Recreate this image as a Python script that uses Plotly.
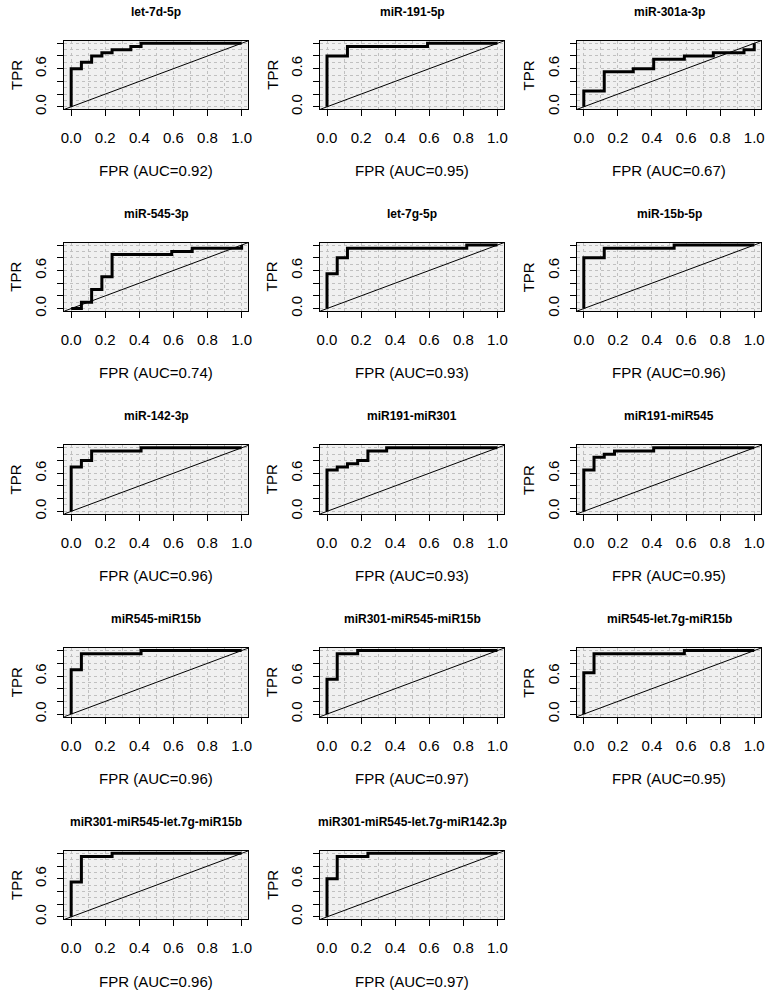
import plotly.graph_objects as go

panel_titles = [
    "let-7d-5p", "miR-191-5p", "miR-301a-3p",
    "miR-545-3p", "let-7g-5p", "miR-15b-5p",
    "miR-142-3p", "miR191-miR301", "miR191-miR545",
    "miR545-miR15b", "miR301-miR545-miR15b", "miR545-let.7g-miR15b",
    "miR301-miR545-let.7g-miR15b", "miR301-miR545-let.7g-miR142.3p",
]
auc_values = [0.92, 0.95, 0.67, 0.74, 0.93, 0.96, 0.96, 0.93, 0.95, 0.96, 0.97, 0.95, 0.96, 0.97]

# ROC step vertices (FPR, TPR); drawn with horizontal-then-vertical steps
fpr_points = [
    [0, 0, 0.06, 0.12, 0.18, 0.24, 0.35, 0.41, 1.0],
    [0, 0, 0.12, 0.59, 1.0],
    [0, 0, 0.12, 0.29, 0.41, 0.59, 0.76, 0.94, 1.0],
    [0, 0.06, 0.12, 0.18, 0.24, 0.59, 0.71, 1.0],
    [0, 0, 0.06, 0.12, 0.82, 1.0],
    [0, 0, 0.12, 0.53, 1.0],
    [0, 0, 0.06, 0.12, 0.41, 1.0],
    [0, 0, 0.06, 0.12, 0.18, 0.24, 0.35, 1.0],
    [0, 0, 0.06, 0.12, 0.18, 0.41, 1.0],
    [0, 0, 0.06, 0.41, 1.0],
    [0, 0, 0.06, 0.18, 1.0],
    [0, 0, 0.06, 0.59, 1.0],
    [0, 0, 0.06, 0.24, 1.0],
    [0, 0, 0.06, 0.24, 1.0],
]
tpr_points = [
    [0, 0.6, 0.7, 0.8, 0.85, 0.9, 0.95, 1.0, 1.0],
    [0, 0.8, 0.95, 1.0, 1.0],
    [0, 0.25, 0.55, 0.6, 0.75, 0.8, 0.85, 0.9, 1.0],
    [0, 0.1, 0.3, 0.5, 0.85, 0.9, 0.95, 1.0],
    [0, 0.55, 0.8, 0.95, 1.0, 1.0],
    [0, 0.8, 0.95, 1.0, 1.0],
    [0, 0.7, 0.8, 0.95, 1.0, 1.0],
    [0, 0.65, 0.7, 0.75, 0.8, 0.95, 1.0, 1.0],
    [0, 0.65, 0.85, 0.9, 0.95, 1.0, 1.0],
    [0, 0.7, 0.95, 1.0, 1.0],
    [0, 0.55, 0.95, 1.0, 1.0],
    [0, 0.65, 0.95, 1.0, 1.0],
    [0, 0.55, 0.95, 1.0, 1.0],
    [0, 0.6, 0.95, 1.0, 1.0],
]

x_tick_vals = [0, 0.2, 0.4, 0.6, 0.8, 1.0]
x_tick_text = ["0.0", "0.2", "0.4", "0.6", "0.8", "1.0"]
y_tick_vals = [0, 0.2, 0.4, 0.6, 0.8, 1.0]
y_tick_text = ["0.0", "", "", "0.6", "", ""]
grid_minor = [0.1, 0.3, 0.5, 0.7, 0.9]

W, H = 770, 993
col_left = [61, 319.5, 579]
row_top = [41, 244, 448, 652, 856]
pw, ph = 186, 69
FONT = "Liberation Sans, Arial, sans-serif"

fig = go.Figure()
layout = {}
annotations = []
shapes = []

for i, name in enumerate(panel_titles):
    r, c = divmod(i, 3)
    k = i + 1
    xa = "x" if k == 1 else f"x{k}"
    ya = "y" if k == 1 else f"y{k}"
    x0 = col_left[c] / W
    x1 = (col_left[c] + pw) / W
    y1 = 1 - row_top[r] / H
    y0 = 1 - (row_top[r] + ph) / H

    fig.add_trace(go.Scatter(
        x=fpr_points[i], y=tpr_points[i], mode="lines",
        line=dict(color="black", width=3, shape="hv"),
        xaxis=xa, yaxis=ya, showlegend=False, hoverinfo="skip",
    ))

    common = dict(
        range=[-0.04, 1.04], showline=True, mirror=True, linecolor="black", linewidth=1,
        ticks="outside", ticklen=6, tickcolor="black", tickwidth=1,
        showgrid=True, gridcolor="#c0c0c0", griddash="dot", gridwidth=1,
        zeroline=False, fixedrange=True,
        tickfont=dict(family=FONT, size=15, color="black"),
        minor=dict(tickvals=grid_minor, showgrid=True, gridcolor="#c0c0c0",
                   griddash="dot", gridwidth=1, ticks=""),
    )
    layout["xaxis" if k == 1 else f"xaxis{k}"] = dict(
        domain=[x0, x1], anchor=ya, tickmode="array",
        tickvals=x_tick_vals, ticktext=x_tick_text, ticklabelstandoff=9, **common)
    layout["yaxis" if k == 1 else f"yaxis{k}"] = dict(
        domain=[y0, y1], anchor=xa, tickmode="array",
        tickvals=y_tick_vals, ticktext=y_tick_text, tickangle=-90,
        ticklabelstandoff=5, **common)

    shapes.append(dict(type="line", xref=f"{xa} domain", yref=f"{ya} domain",
                       x0=0, y0=0, x1=1, y1=1, line=dict(color="black", width=1)))

    cx = (col_left[c] + pw / 2) / W
    annotations.append(dict(
        text=f"<b>{name}</b>", x=cx, y=1 - (row_top[r] - 29) / H,
        xref="paper", yref="paper", showarrow=False, xanchor="center", yanchor="middle",
        font=dict(family=FONT, size=12, color="black")))
    annotations.append(dict(
        text=f"FPR (AUC={auc_values[i]:.2f})", x=cx, y=1 - (row_top[r] + ph + 62) / H,
        xref="paper", yref="paper", showarrow=False, xanchor="center", yanchor="middle",
        font=dict(family=FONT, size=15, color="black")))
    annotations.append(dict(
        text="TPR", x=(col_left[c] - 49) / W, y=1 - (row_top[r] + ph / 2) / H,
        xref="paper", yref="paper", showarrow=False, xanchor="center", yanchor="middle",
        textangle=-90, font=dict(family=FONT, size=15, color="black")))

fig.update_layout(
    width=W, height=H, margin=dict(l=0, r=0, t=0, b=0),
    paper_bgcolor="white", plot_bgcolor="#f0f0f0",
    annotations=annotations, shapes=shapes, showlegend=False,
    **layout,
)

fig.write_html(
    "out.html",
    config={"displayModeBar": False},
    post_script="document.body.style.margin='0';document.body.style.overflow='hidden';",
)
